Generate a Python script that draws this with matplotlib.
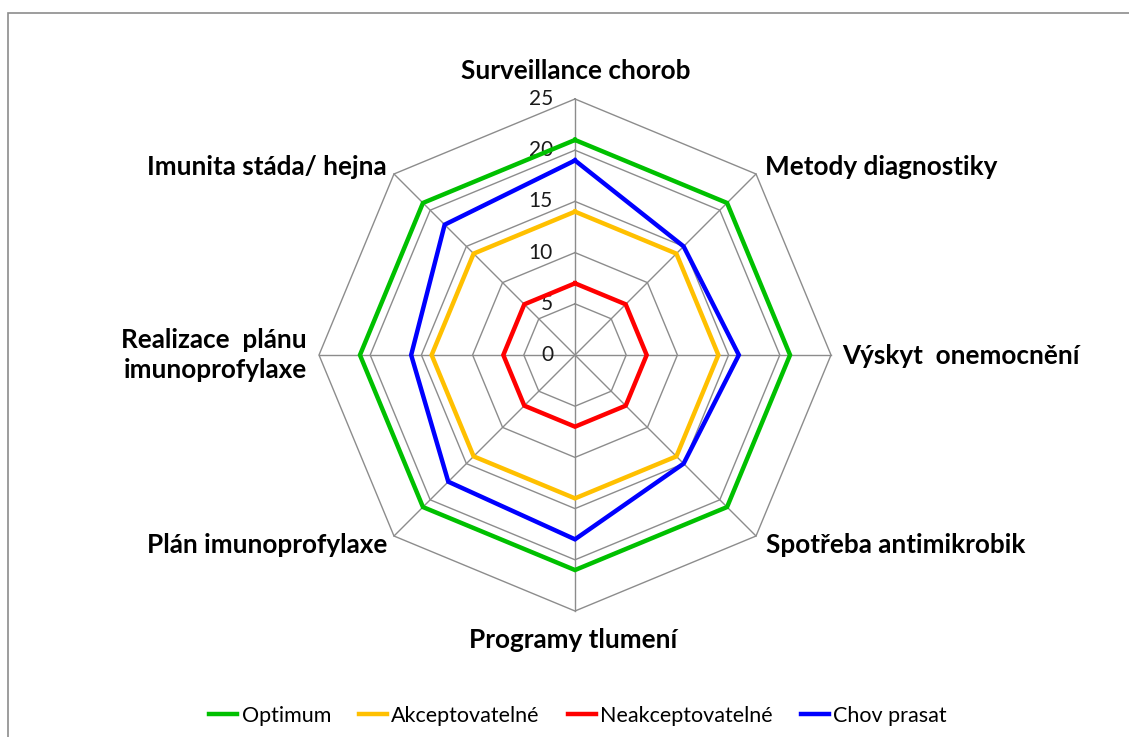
import numpy as np
import matplotlib
matplotlib.use("Agg")
import matplotlib.pyplot as plt
from matplotlib.patches import Rectangle

plt.rcParams['font.family'] = ['Lato', 'DejaVu Sans']

categories = ["Surveillance chorob", "Metody diagnostiky", "Výskyt  onemocnění",
              "Spotřeba antimikrobik", "Programy tlumení", "Plán imunoprofylaxe",
              "Realizace  plánu\nimunoprofylaxe", "Imunita stáda/ hejna"]
optimum = [21, 21, 21, 21, 21, 21, 21, 21]
akceptovatelne = [14, 14, 14, 14, 14, 14, 14, 14]
neakceptovatelne = [7, 7, 7, 7, 7, 7, 7, 7]
chov_prasat = [19, 15, 16, 15, 18, 17.5, 16, 18]
series_names = ["Optimum", "Akceptovatelné", "Neakceptovatelné", "Chov prasat"]
tick_values = [0, 5, 10, 15, 20, 25]

series = [optimum, akceptovatelne, neakceptovatelne, chov_prasat]
colors = ["#00C000", "#FFC000", "#FF0000", "#0000FF"]

W, H = 1129, 737
fig = plt.figure(figsize=(W / 100, H / 100), dpi=100)
ax = fig.add_axes([0, 0, 1, 1])
cx, cy = 575, 355
ppu = 256 / 25.0
ax.set_xlim(-cx / ppu, (W - cx) / ppu)
ax.set_ylim(-(H - cy) / ppu, cy / ppu)
ax.axis('off')

n = len(categories)
ang = np.pi / 2 - np.arange(n) * 2 * np.pi / n
ux, uy = np.cos(ang), np.sin(ang)

grid_c = "#8C8C8C"
rmax = tick_values[-1]
for t in tick_values[1:]:
    xs = np.append(ux * t, ux[0] * t)
    ys = np.append(uy * t, uy[0] * t)
    ax.plot(xs, ys, color=grid_c, lw=1.0, zorder=1)
for i in range(n):
    ax.plot([0, ux[i] * rmax], [0, uy[i] * rmax], color=grid_c, lw=1.0, zorder=1)

for t in tick_values:
    ax.text(-22 / ppu, t, str(t), ha='right', va='center', fontsize=15, color='#1a1a1a', zorder=2)

lines = []
for vals, c, name in zip(series, colors, series_names):
    v = np.array(vals, dtype=float)
    xs = np.append(ux * v, ux[0] * v[0])
    ys = np.append(uy * v, uy[0] * v[0])
    l, = ax.plot(xs, ys, color=c, lw=3.2, zorder=3, label=name, solid_joinstyle='miter')
    lines.append(l)

def px(x, y):
    return ((x - cx) / ppu, (cy - y) / ppu)

label_pos = [
    (px(576, 71), 'center'),
    (px(765, 167), 'left'),
    (px(842, 356), 'left'),
    (px(766, 545), 'left'),
    (px(573, 640), 'center'),
    (px(387, 545), 'right'),
    (px(307, 355), 'right'),
    (px(387, 167), 'right'),
]
for lab, (pos, ha) in zip(categories, label_pos):
    ax.text(pos[0], pos[1], lab, ha=ha, va='center', fontsize=18.8, fontweight='bold',
            color='black', multialignment='right', linespacing=1.3)

leg = fig.legend(handles=lines, loc='center', bbox_to_anchor=(578 / W, 1 - 716 / H),
                 ncol=4, frameon=False, fontsize=15.5, handlelength=1.3,
                 handletextpad=0.2, columnspacing=1.3)

fig.patches.append(Rectangle((8 / W, -0.1), 1.2, 1 - 13 / H + 0.1, transform=fig.transFigure,
                             fill=False, edgecolor='#8C8C8C', lw=1.2))

fig.savefig("out.png", dpi=100, facecolor='white')
